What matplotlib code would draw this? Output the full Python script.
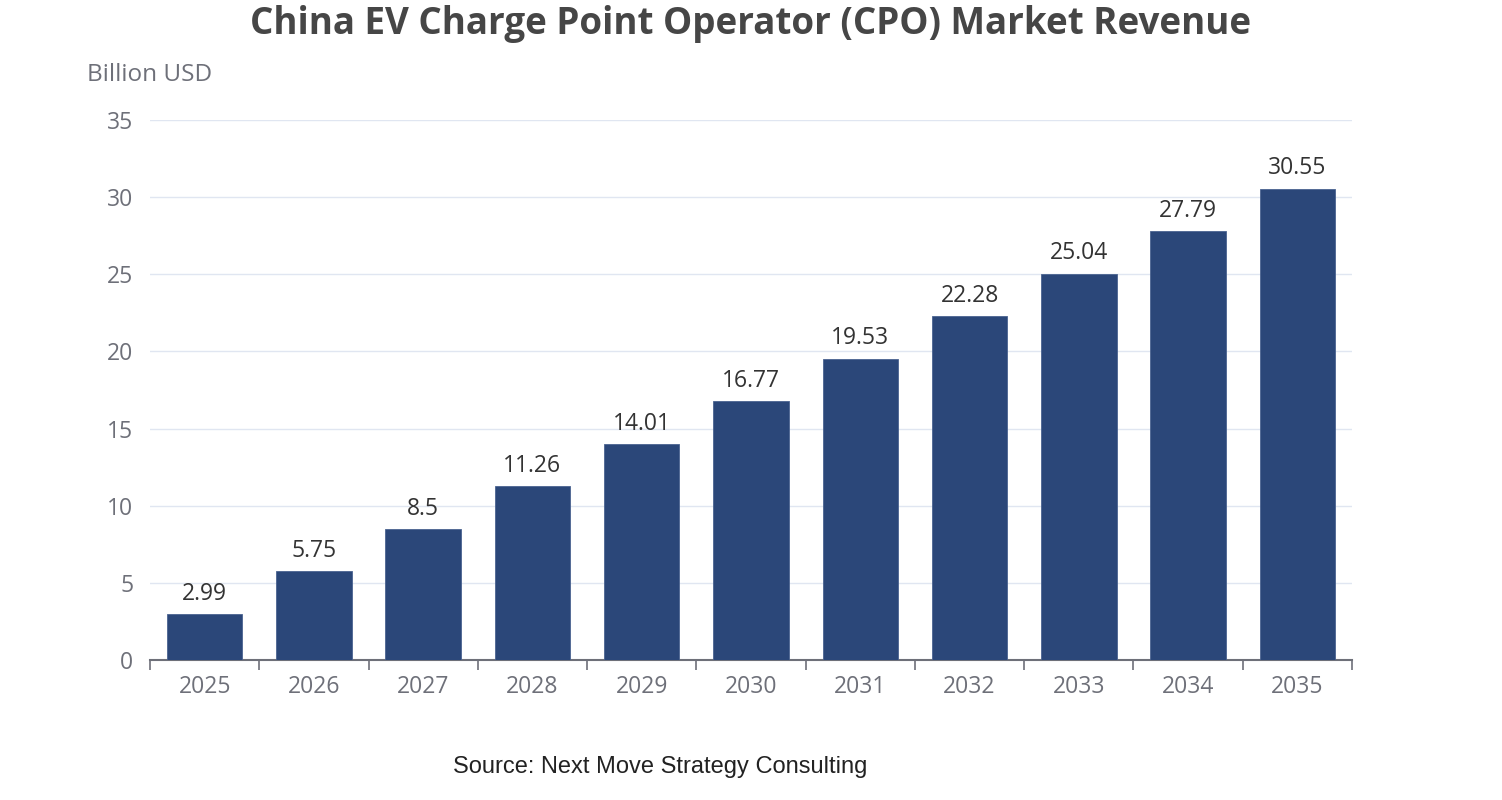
import matplotlib.pyplot as plt
import numpy as np

years = ["2025", "2026", "2027", "2028", "2029", "2030",
         "2031", "2032", "2033", "2034", "2035"]
revenue = [2.99, 5.75, 8.5, 11.26, 14.01, 16.77, 19.53, 22.28, 25.04, 27.79, 30.55]
value_labels = ["2.99", "5.75", "8.5", "11.26", "14.01", "16.77",
                "19.53", "22.28", "25.04", "27.79", "30.55"]
y_ticks = [0, 5, 10, 15, 20, 25, 30, 35]

BAR = "#2b4779"
AXIS = "#6e7079"
GRID = "#e0e6f1"

plt.rcParams["font.family"] = ["Open Sans", "DejaVu Sans"]

fig = plt.figure(figsize=(15.02, 8), dpi=100)
ax = fig.add_axes([150 / 1502, 140 / 800, 1202 / 1502, 540 / 800])

x = np.arange(len(years))
ax.bar(x, revenue, width=0.69, color=BAR, edgecolor="#4a6390",
       linewidth=0.6, zorder=3)
for xi, v, lab in zip(x, revenue, value_labels):
    ax.annotate(lab, (xi, v), xytext=(0, 6), textcoords="offset points",
                ha="center", va="bottom", fontsize=16.5, color="#333333")

ax.set_xlim(-0.5, len(years) - 0.5)
ax.set_ylim(0, 35)
ax.set_yticks(y_ticks)
ax.set_yticklabels([str(t) for t in y_ticks])
ax.yaxis.grid(True, color=GRID, linewidth=1, zorder=0)
ax.tick_params(axis="y", length=0, pad=12, labelsize=16.5, labelcolor=AXIS)

ax.set_xticks(x)
ax.set_xticklabels(years)
ax.tick_params(axis="x", length=0, pad=11, labelsize=16.5, labelcolor=AXIS)
ax.set_xticks(np.arange(len(years) + 1) - 0.5, minor=True)
ax.tick_params(axis="x", which="minor", length=7, width=1.2, color=AXIS)

for side in ["top", "right", "left"]:
    ax.spines[side].set_visible(False)
ax.spines["bottom"].set_color(AXIS)
ax.spines["bottom"].set_linewidth(1.5)

fig.text(0.5, 1 - 24 / 800, "China EV Charge Point Operator (CPO) Market Revenue",
         ha="center", va="center", fontsize=26.5, fontweight="bold", color="#464646")
fig.text(87 / 1502, 1 - 75 / 800, "Billion USD", ha="left", va="center",
         fontsize=17.5, color=AXIS)
fig.text(660 / 1502, 1 - 767 / 800, "Source: Next Move Strategy Consulting",
         ha="center", va="center", fontsize=17, color="#222222",
         family=["Liberation Sans", "DejaVu Sans"])

fig.savefig("out.png", dpi=100)
